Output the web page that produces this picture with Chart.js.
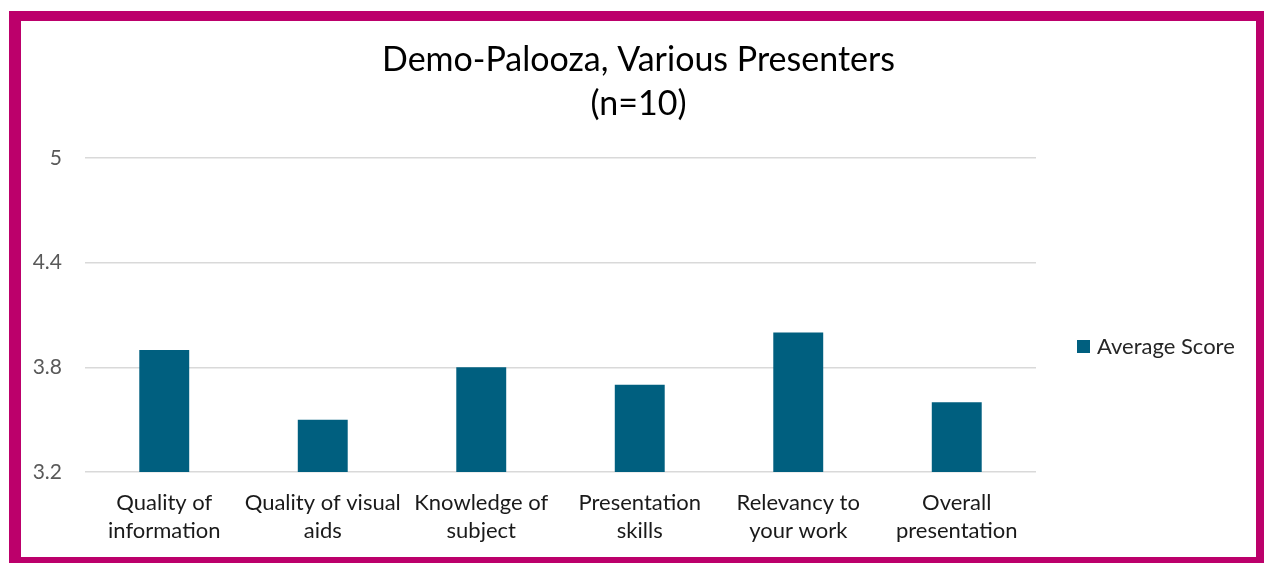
<!DOCTYPE html>
<html>
<head>
<meta charset="utf-8">
<script src="https://cdn.jsdelivr.net/npm/chart.js@4"></script>
<style>
  html, body { margin: 0; padding: 0; background: #fff; width: 1264px; height: 563px; overflow: hidden; }
  #wrap { position: absolute; left: 0; top: 0; width: 1264px; height: 563px; }
  #frame { position: absolute; left: 9px; top: 11px; width: 1235px; height: 536px; border-style: solid; border-color: #BC006B; border-width: 10px 8px 6px 12px; pointer-events: none; }
</style>
</head>
<body>
<div id="wrap"><canvas id="c" width="1264" height="563"></canvas></div>
<div id="frame"></div>
<script>
const titleLines = ["Demo-Palooza, Various Presenters", "(n=10)"];
const categories = [
  ["Quality of", "information"],
  ["Quality of visual", "aids"],
  ["Knowledge of", "subject"],
  ["Presentation", "skills"],
  ["Relevancy to", "your work"],
  ["Overall", "presentation"]
];
const seriesName = "Average Score";
const averageScore = [3.9, 3.5, 3.8, 3.7, 4.0, 3.6];
const yTicks = [3.2, 3.8, 4.4, 5];

const FONT = "Lato, 'Open Sans', sans-serif";
const BAR = "#005F7F";

const legendPlugin = {
  id: 'customLegend',
  afterDraw(chart) {
    const ctx = chart.ctx;
    const ds = chart.data.datasets[0];
    ctx.save();
    const x = chart.chartArea.right + 41;
    const y = 347;
    ctx.fillStyle = ds.backgroundColor;
    ctx.fillRect(x, y - 7, 13, 13);
    ctx.fillStyle = '#262626';
    ctx.font = "22px " + FONT;
    ctx.textBaseline = 'middle';
    ctx.textAlign = 'left';
    ctx.fillText(ds.label, x + 20, y);
    ctx.restore();
  }
};

new Chart(document.getElementById('c'), {
  type: 'bar',
  data: {
    labels: categories,
    datasets: [{
      label: seriesName,
      data: averageScore,
      backgroundColor: BAR,
      borderWidth: 0,
      barPercentage: 0.315,
      categoryPercentage: 1.0
    }]
  },
  options: {
    responsive: false,
    animation: false,
    devicePixelRatio: 1,
    layout: { padding: { left: 21, right: 8, top: 21, bottom: 6 } },
    plugins: {
      legend: { display: false },
      tooltip: { enabled: false },
      title: {
        display: true,
        text: titleLines,
        color: '#000000',
        font: { family: FONT, size: 34, weight: 'normal', lineHeight: 44/34 },
        padding: { top: 17, bottom: 32 }
      }
    },
    scales: {
      x: {
        grid: { display: false, drawTicks: false },
        border: { display: false },
        ticks: {
          color: '#1a1a1a',
          font: { family: FONT, size: 22, lineHeight: 28/22 },
          padding: 17,
          maxRotation: 0,
          autoSkip: false
        },
        afterFit(s) { s.height = 85; }
      },
      y: {
        min: 3.2,
        max: 5,
        afterBuildTicks(s) { s.ticks = yTicks.map(v => ({ value: v })); },
        grid: { color: '#D9D9D9', lineWidth: 1.5, drawTicks: false },
        border: { display: false },
        ticks: {
          color: '#595959',
          font: { family: FONT, size: 21 },
          padding: 23,
          callback: v => String(v)
        },
        afterFit(s) { s.width = 64; }
      },
      yRight: {
        position: 'right',
        display: true,
        grid: { display: false, drawTicks: false },
        border: { display: false },
        ticks: { display: false },
        afterFit(s) { s.width = 220; }
      }
    }
  },
  plugins: [legendPlugin]
});
</script>
</body>
</html>
